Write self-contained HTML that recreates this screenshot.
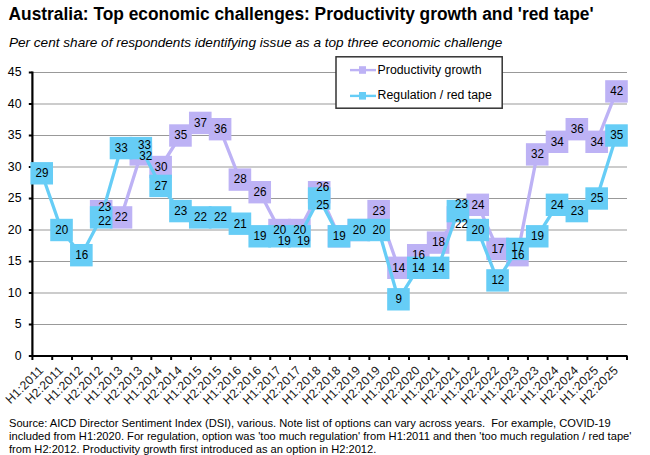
<!DOCTYPE html><html><head><meta charset="utf-8"><style>html,body{margin:0;padding:0;background:#fff;}svg{display:block;font-family:"Liberation Sans",sans-serif;}</style></head><body>
<svg width="650" height="455" viewBox="0 0 650 455">
<rect width="650" height="455" fill="#fff"/>
<text transform="translate(8.6,19.7) scale(1,1.07)" font-size="17.35" font-weight="bold" fill="#000">Australia: Top economic challenges: Productivity growth and 'red tape'</text>
<text x="8.9" y="46.6" font-size="13.6" font-style="italic" fill="#000">Per cent share of respondents identifying issue as a top three economic challenge</text>
<line x1="32.4" x2="627" y1="324.50" y2="324.50" stroke="#999" stroke-width="1"/>
<line x1="32.4" x2="627" y1="293.00" y2="293.00" stroke="#999" stroke-width="1"/>
<line x1="32.4" x2="627" y1="261.50" y2="261.50" stroke="#999" stroke-width="1"/>
<line x1="32.4" x2="627" y1="230.00" y2="230.00" stroke="#999" stroke-width="1"/>
<line x1="32.4" x2="627" y1="198.50" y2="198.50" stroke="#999" stroke-width="1"/>
<line x1="32.4" x2="627" y1="167.00" y2="167.00" stroke="#999" stroke-width="1"/>
<line x1="32.4" x2="627" y1="135.50" y2="135.50" stroke="#999" stroke-width="1"/>
<line x1="32.4" x2="627" y1="104.00" y2="104.00" stroke="#999" stroke-width="1"/>
<line x1="32.4" x2="627" y1="72.50" y2="72.50" stroke="#999" stroke-width="1"/>
<text x="21.5" y="359.70" font-size="12.3" text-anchor="end" fill="#000">0</text>
<line x1="28.8" x2="32.4" y1="356.00" y2="356.00" stroke="#000" stroke-width="2"/>
<text x="21.5" y="328.20" font-size="12.3" text-anchor="end" fill="#000">5</text>
<line x1="28.8" x2="32.4" y1="324.50" y2="324.50" stroke="#000" stroke-width="2"/>
<text x="21.5" y="296.70" font-size="12.3" text-anchor="end" fill="#000">10</text>
<line x1="28.8" x2="32.4" y1="293.00" y2="293.00" stroke="#000" stroke-width="2"/>
<text x="21.5" y="265.20" font-size="12.3" text-anchor="end" fill="#000">15</text>
<line x1="28.8" x2="32.4" y1="261.50" y2="261.50" stroke="#000" stroke-width="2"/>
<text x="21.5" y="233.70" font-size="12.3" text-anchor="end" fill="#000">20</text>
<line x1="28.8" x2="32.4" y1="230.00" y2="230.00" stroke="#000" stroke-width="2"/>
<text x="21.5" y="202.20" font-size="12.3" text-anchor="end" fill="#000">25</text>
<line x1="28.8" x2="32.4" y1="198.50" y2="198.50" stroke="#000" stroke-width="2"/>
<text x="21.5" y="170.70" font-size="12.3" text-anchor="end" fill="#000">30</text>
<line x1="28.8" x2="32.4" y1="167.00" y2="167.00" stroke="#000" stroke-width="2"/>
<text x="21.5" y="139.20" font-size="12.3" text-anchor="end" fill="#000">35</text>
<line x1="28.8" x2="32.4" y1="135.50" y2="135.50" stroke="#000" stroke-width="2"/>
<text x="21.5" y="107.70" font-size="12.3" text-anchor="end" fill="#000">40</text>
<line x1="28.8" x2="32.4" y1="104.00" y2="104.00" stroke="#000" stroke-width="2"/>
<text x="21.5" y="76.20" font-size="12.3" text-anchor="end" fill="#000">45</text>
<line x1="28.8" x2="32.4" y1="72.50" y2="72.50" stroke="#000" stroke-width="2"/>
<line x1="32.4" x2="32.4" y1="71.5" y2="357.1" stroke="#000" stroke-width="2.2"/>
<line x1="31.3" x2="627.5" y1="356.00" y2="356.00" stroke="#000" stroke-width="2.2"/>
<line x1="32.40" x2="32.40" y1="356.00" y2="360.00" stroke="#000" stroke-width="2"/>
<line x1="52.22" x2="52.22" y1="356.00" y2="360.00" stroke="#000" stroke-width="2"/>
<line x1="72.04" x2="72.04" y1="356.00" y2="360.00" stroke="#000" stroke-width="2"/>
<line x1="91.86" x2="91.86" y1="356.00" y2="360.00" stroke="#000" stroke-width="2"/>
<line x1="111.68" x2="111.68" y1="356.00" y2="360.00" stroke="#000" stroke-width="2"/>
<line x1="131.50" x2="131.50" y1="356.00" y2="360.00" stroke="#000" stroke-width="2"/>
<line x1="151.32" x2="151.32" y1="356.00" y2="360.00" stroke="#000" stroke-width="2"/>
<line x1="171.14" x2="171.14" y1="356.00" y2="360.00" stroke="#000" stroke-width="2"/>
<line x1="190.96" x2="190.96" y1="356.00" y2="360.00" stroke="#000" stroke-width="2"/>
<line x1="210.78" x2="210.78" y1="356.00" y2="360.00" stroke="#000" stroke-width="2"/>
<line x1="230.60" x2="230.60" y1="356.00" y2="360.00" stroke="#000" stroke-width="2"/>
<line x1="250.42" x2="250.42" y1="356.00" y2="360.00" stroke="#000" stroke-width="2"/>
<line x1="270.24" x2="270.24" y1="356.00" y2="360.00" stroke="#000" stroke-width="2"/>
<line x1="290.06" x2="290.06" y1="356.00" y2="360.00" stroke="#000" stroke-width="2"/>
<line x1="309.88" x2="309.88" y1="356.00" y2="360.00" stroke="#000" stroke-width="2"/>
<line x1="329.70" x2="329.70" y1="356.00" y2="360.00" stroke="#000" stroke-width="2"/>
<line x1="349.52" x2="349.52" y1="356.00" y2="360.00" stroke="#000" stroke-width="2"/>
<line x1="369.34" x2="369.34" y1="356.00" y2="360.00" stroke="#000" stroke-width="2"/>
<line x1="389.16" x2="389.16" y1="356.00" y2="360.00" stroke="#000" stroke-width="2"/>
<line x1="408.98" x2="408.98" y1="356.00" y2="360.00" stroke="#000" stroke-width="2"/>
<line x1="428.80" x2="428.80" y1="356.00" y2="360.00" stroke="#000" stroke-width="2"/>
<line x1="448.62" x2="448.62" y1="356.00" y2="360.00" stroke="#000" stroke-width="2"/>
<line x1="468.44" x2="468.44" y1="356.00" y2="360.00" stroke="#000" stroke-width="2"/>
<line x1="488.26" x2="488.26" y1="356.00" y2="360.00" stroke="#000" stroke-width="2"/>
<line x1="508.08" x2="508.08" y1="356.00" y2="360.00" stroke="#000" stroke-width="2"/>
<line x1="527.90" x2="527.90" y1="356.00" y2="360.00" stroke="#000" stroke-width="2"/>
<line x1="547.72" x2="547.72" y1="356.00" y2="360.00" stroke="#000" stroke-width="2"/>
<line x1="567.54" x2="567.54" y1="356.00" y2="360.00" stroke="#000" stroke-width="2"/>
<line x1="587.36" x2="587.36" y1="356.00" y2="360.00" stroke="#000" stroke-width="2"/>
<line x1="607.18" x2="607.18" y1="356.00" y2="360.00" stroke="#000" stroke-width="2"/>
<line x1="627.00" x2="627.00" y1="356.00" y2="360.00" stroke="#000" stroke-width="2"/>
<text transform="translate(44.21,370.90) rotate(-45)" font-size="12.2" letter-spacing="0.35" text-anchor="end" fill="#1a1a1a">H1:2011</text>
<text transform="translate(64.03,370.90) rotate(-45)" font-size="12.2" letter-spacing="0.35" text-anchor="end" fill="#1a1a1a">H2:2011</text>
<text transform="translate(83.85,370.90) rotate(-45)" font-size="12.2" letter-spacing="0.35" text-anchor="end" fill="#1a1a1a">H1:2012</text>
<text transform="translate(103.67,370.90) rotate(-45)" font-size="12.2" letter-spacing="0.35" text-anchor="end" fill="#1a1a1a">H2:2012</text>
<text transform="translate(123.49,370.90) rotate(-45)" font-size="12.2" letter-spacing="0.35" text-anchor="end" fill="#1a1a1a">H1:2013</text>
<text transform="translate(143.31,370.90) rotate(-45)" font-size="12.2" letter-spacing="0.35" text-anchor="end" fill="#1a1a1a">H2:2013</text>
<text transform="translate(163.13,370.90) rotate(-45)" font-size="12.2" letter-spacing="0.35" text-anchor="end" fill="#1a1a1a">H1:2014</text>
<text transform="translate(182.95,370.90) rotate(-45)" font-size="12.2" letter-spacing="0.35" text-anchor="end" fill="#1a1a1a">H2:2014</text>
<text transform="translate(202.77,370.90) rotate(-45)" font-size="12.2" letter-spacing="0.35" text-anchor="end" fill="#1a1a1a">H1:2015</text>
<text transform="translate(222.59,370.90) rotate(-45)" font-size="12.2" letter-spacing="0.35" text-anchor="end" fill="#1a1a1a">H2:2015</text>
<text transform="translate(242.41,370.90) rotate(-45)" font-size="12.2" letter-spacing="0.35" text-anchor="end" fill="#1a1a1a">H1:2016</text>
<text transform="translate(262.23,370.90) rotate(-45)" font-size="12.2" letter-spacing="0.35" text-anchor="end" fill="#1a1a1a">H2:2016</text>
<text transform="translate(282.05,370.90) rotate(-45)" font-size="12.2" letter-spacing="0.35" text-anchor="end" fill="#1a1a1a">H1:2017</text>
<text transform="translate(301.87,370.90) rotate(-45)" font-size="12.2" letter-spacing="0.35" text-anchor="end" fill="#1a1a1a">H2:2017</text>
<text transform="translate(321.69,370.90) rotate(-45)" font-size="12.2" letter-spacing="0.35" text-anchor="end" fill="#1a1a1a">H1:2018</text>
<text transform="translate(341.51,370.90) rotate(-45)" font-size="12.2" letter-spacing="0.35" text-anchor="end" fill="#1a1a1a">H2:2018</text>
<text transform="translate(361.33,370.90) rotate(-45)" font-size="12.2" letter-spacing="0.35" text-anchor="end" fill="#1a1a1a">H1:2019</text>
<text transform="translate(381.15,370.90) rotate(-45)" font-size="12.2" letter-spacing="0.35" text-anchor="end" fill="#1a1a1a">H2:2019</text>
<text transform="translate(400.97,370.90) rotate(-45)" font-size="12.2" letter-spacing="0.35" text-anchor="end" fill="#1a1a1a">H1:2020</text>
<text transform="translate(420.79,370.90) rotate(-45)" font-size="12.2" letter-spacing="0.35" text-anchor="end" fill="#1a1a1a">H2:2020</text>
<text transform="translate(440.61,370.90) rotate(-45)" font-size="12.2" letter-spacing="0.35" text-anchor="end" fill="#1a1a1a">H1:2021</text>
<text transform="translate(460.43,370.90) rotate(-45)" font-size="12.2" letter-spacing="0.35" text-anchor="end" fill="#1a1a1a">H2:2021</text>
<text transform="translate(480.25,370.90) rotate(-45)" font-size="12.2" letter-spacing="0.35" text-anchor="end" fill="#1a1a1a">H1:2022</text>
<text transform="translate(500.07,370.90) rotate(-45)" font-size="12.2" letter-spacing="0.35" text-anchor="end" fill="#1a1a1a">H2:2022</text>
<text transform="translate(519.89,370.90) rotate(-45)" font-size="12.2" letter-spacing="0.35" text-anchor="end" fill="#1a1a1a">H1:2023</text>
<text transform="translate(539.71,370.90) rotate(-45)" font-size="12.2" letter-spacing="0.35" text-anchor="end" fill="#1a1a1a">H2:2023</text>
<text transform="translate(559.53,370.90) rotate(-45)" font-size="12.2" letter-spacing="0.35" text-anchor="end" fill="#1a1a1a">H1:2024</text>
<text transform="translate(579.35,370.90) rotate(-45)" font-size="12.2" letter-spacing="0.35" text-anchor="end" fill="#1a1a1a">H2:2024</text>
<text transform="translate(599.17,370.90) rotate(-45)" font-size="12.2" letter-spacing="0.35" text-anchor="end" fill="#1a1a1a">H1:2025</text>
<text transform="translate(618.99,370.90) rotate(-45)" font-size="12.2" letter-spacing="0.35" text-anchor="end" fill="#1a1a1a">H2:2025</text>
<polyline points="101.17,211.10 120.99,217.40 140.81,154.40 160.63,167.00 180.45,135.50 200.27,122.90 220.09,129.20 239.91,179.60 259.73,192.20 279.55,230.00 299.37,230.00 319.19,192.20 339.01,236.30 358.83,230.00 378.65,211.10 398.47,267.80 418.29,255.20 438.11,242.60 457.93,217.40 477.75,204.80 497.57,248.90 517.39,255.20 537.21,154.40 557.03,141.80 576.85,129.20 596.67,141.80 616.49,91.40" fill="none" stroke="#bdb2f5" stroke-width="3.3" stroke-linejoin="round"/>
<rect x="89.87" y="199.90" width="22.6" height="22.4" fill="#bdb2f5"/>
<rect x="109.69" y="206.20" width="22.6" height="22.4" fill="#bdb2f5"/>
<rect x="129.51" y="143.20" width="22.6" height="22.4" fill="#bdb2f5"/>
<rect x="149.33" y="155.80" width="22.6" height="22.4" fill="#bdb2f5"/>
<rect x="169.15" y="124.30" width="22.6" height="22.4" fill="#bdb2f5"/>
<rect x="188.97" y="111.70" width="22.6" height="22.4" fill="#bdb2f5"/>
<rect x="208.79" y="118.00" width="22.6" height="22.4" fill="#bdb2f5"/>
<rect x="228.61" y="168.40" width="22.6" height="22.4" fill="#bdb2f5"/>
<rect x="248.43" y="181.00" width="22.6" height="22.4" fill="#bdb2f5"/>
<rect x="268.25" y="218.80" width="22.6" height="22.4" fill="#bdb2f5"/>
<rect x="288.07" y="218.80" width="22.6" height="22.4" fill="#bdb2f5"/>
<rect x="307.89" y="181.00" width="22.6" height="22.4" fill="#bdb2f5"/>
<rect x="327.71" y="225.10" width="22.6" height="22.4" fill="#bdb2f5"/>
<rect x="347.53" y="218.80" width="22.6" height="22.4" fill="#bdb2f5"/>
<rect x="367.35" y="199.90" width="22.6" height="22.4" fill="#bdb2f5"/>
<rect x="387.17" y="256.60" width="22.6" height="22.4" fill="#bdb2f5"/>
<rect x="406.99" y="244.00" width="22.6" height="22.4" fill="#bdb2f5"/>
<rect x="426.81" y="231.40" width="22.6" height="22.4" fill="#bdb2f5"/>
<rect x="446.63" y="206.20" width="8.0" height="22.4" fill="#bdb2f5"/>
<rect x="466.45" y="193.60" width="22.6" height="22.4" fill="#bdb2f5"/>
<rect x="486.27" y="237.70" width="22.6" height="22.4" fill="#bdb2f5"/>
<rect x="506.09" y="244.00" width="22.6" height="22.4" fill="#bdb2f5"/>
<rect x="525.91" y="143.20" width="22.6" height="22.4" fill="#bdb2f5"/>
<rect x="545.73" y="130.60" width="22.6" height="22.4" fill="#bdb2f5"/>
<rect x="565.55" y="118.00" width="22.6" height="22.4" fill="#bdb2f5"/>
<rect x="585.37" y="130.60" width="22.6" height="22.4" fill="#bdb2f5"/>
<rect x="605.19" y="80.20" width="22.6" height="22.4" fill="#bdb2f5"/>
<polyline points="41.71,173.30 61.53,230.00 81.35,255.20 101.17,217.40 120.99,148.10 140.81,148.10 160.63,185.90 180.45,211.10 200.27,217.40 220.09,217.40 239.91,223.70 259.73,236.30 279.55,236.30 299.37,236.30 319.19,198.50 339.01,236.30 358.83,230.00 378.65,230.00 398.47,299.30 418.29,267.80 438.11,267.80 457.93,211.10 477.75,230.00 497.57,280.40 517.39,248.90 537.21,236.30 557.03,204.80 576.85,211.10 596.67,198.50 616.49,135.50" fill="none" stroke="#66cdf6" stroke-width="3.3" stroke-linejoin="round"/>
<rect x="30.41" y="162.10" width="22.6" height="22.4" fill="#66cdf6"/>
<rect x="50.23" y="218.80" width="22.6" height="22.4" fill="#66cdf6"/>
<rect x="70.05" y="244.00" width="22.6" height="22.4" fill="#66cdf6"/>
<rect x="89.87" y="206.20" width="22.6" height="22.4" fill="#66cdf6"/>
<rect x="109.69" y="136.90" width="22.6" height="22.4" fill="#66cdf6"/>
<rect x="129.51" y="136.90" width="22.6" height="22.4" fill="#66cdf6"/>
<rect x="149.33" y="174.70" width="22.6" height="22.4" fill="#66cdf6"/>
<rect x="169.15" y="199.90" width="22.6" height="22.4" fill="#66cdf6"/>
<rect x="188.97" y="206.20" width="22.6" height="22.4" fill="#66cdf6"/>
<rect x="208.79" y="206.20" width="22.6" height="22.4" fill="#66cdf6"/>
<rect x="228.61" y="212.50" width="22.6" height="22.4" fill="#66cdf6"/>
<rect x="248.43" y="225.10" width="22.6" height="22.4" fill="#66cdf6"/>
<rect x="268.25" y="225.10" width="22.6" height="22.4" fill="#66cdf6"/>
<rect x="288.07" y="225.10" width="22.6" height="22.4" fill="#66cdf6"/>
<rect x="307.89" y="187.30" width="22.6" height="22.4" fill="#66cdf6"/>
<rect x="327.71" y="225.10" width="22.6" height="22.4" fill="#66cdf6"/>
<rect x="347.53" y="218.80" width="22.6" height="22.4" fill="#66cdf6"/>
<rect x="367.35" y="218.80" width="22.6" height="22.4" fill="#66cdf6"/>
<rect x="387.17" y="288.10" width="22.6" height="22.4" fill="#66cdf6"/>
<rect x="406.99" y="256.60" width="22.6" height="22.4" fill="#66cdf6"/>
<rect x="426.81" y="256.60" width="22.6" height="22.4" fill="#66cdf6"/>
<rect x="446.63" y="199.90" width="22.6" height="22.4" fill="#66cdf6"/>
<rect x="466.45" y="218.80" width="22.6" height="22.4" fill="#66cdf6"/>
<rect x="486.27" y="269.20" width="22.6" height="22.4" fill="#66cdf6"/>
<rect x="506.09" y="237.70" width="22.6" height="22.4" fill="#66cdf6"/>
<rect x="525.91" y="225.10" width="22.6" height="22.4" fill="#66cdf6"/>
<rect x="545.73" y="193.60" width="22.6" height="22.4" fill="#66cdf6"/>
<rect x="565.55" y="199.90" width="22.6" height="22.4" fill="#66cdf6"/>
<rect x="585.37" y="187.30" width="22.6" height="22.4" fill="#66cdf6"/>
<rect x="605.19" y="124.30" width="22.6" height="22.4" fill="#66cdf6"/>
<text transform="translate(104.77,211.10) scale(0.95,1.08)" font-size="12.3" text-anchor="middle" fill="#000">23</text>
<text transform="translate(121.29,221.20) scale(0.95,1.08)" font-size="12.3" text-anchor="middle" fill="#000">22</text>
<text transform="translate(145.81,160.30) scale(0.95,1.08)" font-size="12.3" text-anchor="middle" fill="#000">32</text>
<text transform="translate(160.93,170.80) scale(0.95,1.08)" font-size="12.3" text-anchor="middle" fill="#000">30</text>
<text transform="translate(180.75,139.30) scale(0.95,1.08)" font-size="12.3" text-anchor="middle" fill="#000">35</text>
<text transform="translate(200.57,126.70) scale(0.95,1.08)" font-size="12.3" text-anchor="middle" fill="#000">37</text>
<text transform="translate(220.39,133.00) scale(0.95,1.08)" font-size="12.3" text-anchor="middle" fill="#000">36</text>
<text transform="translate(240.21,183.40) scale(0.95,1.08)" font-size="12.3" text-anchor="middle" fill="#000">28</text>
<text transform="translate(260.03,196.00) scale(0.95,1.08)" font-size="12.3" text-anchor="middle" fill="#000">26</text>
<text transform="translate(279.85,233.80) scale(0.95,1.08)" font-size="12.3" text-anchor="middle" fill="#000">20</text>
<text transform="translate(299.67,233.80) scale(0.95,1.08)" font-size="12.3" text-anchor="middle" fill="#000">20</text>
<text transform="translate(322.79,191.30) scale(0.95,1.08)" font-size="12.3" text-anchor="middle" fill="#000">26</text>
<text transform="translate(378.95,214.90) scale(0.95,1.08)" font-size="12.3" text-anchor="middle" fill="#000">23</text>
<text transform="translate(398.77,271.60) scale(0.95,1.08)" font-size="12.3" text-anchor="middle" fill="#000">14</text>
<text transform="translate(418.59,259.00) scale(0.95,1.08)" font-size="12.3" text-anchor="middle" fill="#000">16</text>
<text transform="translate(438.41,246.40) scale(0.95,1.08)" font-size="12.3" text-anchor="middle" fill="#000">18</text>
<text transform="translate(461.53,228.10) scale(0.95,1.08)" font-size="12.3" text-anchor="middle" fill="#000">22</text>
<text transform="translate(478.05,208.60) scale(0.95,1.08)" font-size="12.3" text-anchor="middle" fill="#000">24</text>
<text transform="translate(497.87,252.70) scale(0.95,1.08)" font-size="12.3" text-anchor="middle" fill="#000">17</text>
<text transform="translate(518.09,259.40) scale(0.95,1.08)" font-size="12.3" text-anchor="middle" fill="#000">16</text>
<text transform="translate(537.51,158.20) scale(0.95,1.08)" font-size="12.3" text-anchor="middle" fill="#000">32</text>
<text transform="translate(557.33,145.60) scale(0.95,1.08)" font-size="12.3" text-anchor="middle" fill="#000">34</text>
<text transform="translate(577.15,133.00) scale(0.95,1.08)" font-size="12.3" text-anchor="middle" fill="#000">36</text>
<text transform="translate(596.97,145.60) scale(0.95,1.08)" font-size="12.3" text-anchor="middle" fill="#000">34</text>
<text transform="translate(616.79,95.20) scale(0.95,1.08)" font-size="12.3" text-anchor="middle" fill="#000">42</text>
<text transform="translate(42.01,177.10) scale(0.95,1.08)" font-size="12.3" text-anchor="middle" fill="#000">29</text>
<text transform="translate(61.83,233.80) scale(0.95,1.08)" font-size="12.3" text-anchor="middle" fill="#000">20</text>
<text transform="translate(81.65,259.00) scale(0.95,1.08)" font-size="12.3" text-anchor="middle" fill="#000">16</text>
<text transform="translate(104.77,225.20) scale(0.95,1.08)" font-size="12.3" text-anchor="middle" fill="#000">22</text>
<text transform="translate(121.29,151.90) scale(0.95,1.08)" font-size="12.3" text-anchor="middle" fill="#000">33</text>
<text transform="translate(144.41,148.80) scale(0.95,1.08)" font-size="12.3" text-anchor="middle" fill="#000">33</text>
<text transform="translate(160.93,189.70) scale(0.95,1.08)" font-size="12.3" text-anchor="middle" fill="#000">27</text>
<text transform="translate(180.75,214.90) scale(0.95,1.08)" font-size="12.3" text-anchor="middle" fill="#000">23</text>
<text transform="translate(200.57,221.20) scale(0.95,1.08)" font-size="12.3" text-anchor="middle" fill="#000">22</text>
<text transform="translate(220.39,221.20) scale(0.95,1.08)" font-size="12.3" text-anchor="middle" fill="#000">22</text>
<text transform="translate(240.21,227.50) scale(0.95,1.08)" font-size="12.3" text-anchor="middle" fill="#000">21</text>
<text transform="translate(260.03,240.10) scale(0.95,1.08)" font-size="12.3" text-anchor="middle" fill="#000">19</text>
<text transform="translate(284.25,245.10) scale(0.95,1.08)" font-size="12.3" text-anchor="middle" fill="#000">19</text>
<text transform="translate(303.57,245.10) scale(0.95,1.08)" font-size="12.3" text-anchor="middle" fill="#000">19</text>
<text transform="translate(322.79,208.80) scale(0.95,1.08)" font-size="12.3" text-anchor="middle" fill="#000">25</text>
<text transform="translate(339.31,240.10) scale(0.95,1.08)" font-size="12.3" text-anchor="middle" fill="#000">19</text>
<text transform="translate(359.13,233.80) scale(0.95,1.08)" font-size="12.3" text-anchor="middle" fill="#000">20</text>
<text transform="translate(378.95,233.80) scale(0.95,1.08)" font-size="12.3" text-anchor="middle" fill="#000">20</text>
<text transform="translate(398.77,303.10) scale(0.95,1.08)" font-size="12.3" text-anchor="middle" fill="#000">9</text>
<text transform="translate(418.59,271.60) scale(0.95,1.08)" font-size="12.3" text-anchor="middle" fill="#000">14</text>
<text transform="translate(438.41,271.60) scale(0.95,1.08)" font-size="12.3" text-anchor="middle" fill="#000">14</text>
<text transform="translate(461.53,208.00) scale(0.95,1.08)" font-size="12.3" text-anchor="middle" fill="#000">23</text>
<text transform="translate(478.05,233.80) scale(0.95,1.08)" font-size="12.3" text-anchor="middle" fill="#000">20</text>
<text transform="translate(497.87,284.20) scale(0.95,1.08)" font-size="12.3" text-anchor="middle" fill="#000">12</text>
<text transform="translate(517.69,251.40) scale(0.95,1.08)" font-size="12.3" text-anchor="middle" fill="#000">17</text>
<text transform="translate(537.51,240.10) scale(0.95,1.08)" font-size="12.3" text-anchor="middle" fill="#000">19</text>
<text transform="translate(557.33,208.60) scale(0.95,1.08)" font-size="12.3" text-anchor="middle" fill="#000">24</text>
<text transform="translate(577.15,214.90) scale(0.95,1.08)" font-size="12.3" text-anchor="middle" fill="#000">23</text>
<text transform="translate(596.97,202.30) scale(0.95,1.08)" font-size="12.3" text-anchor="middle" fill="#000">25</text>
<text transform="translate(616.79,139.30) scale(0.95,1.08)" font-size="12.3" text-anchor="middle" fill="#000">35</text>
<rect x="336" y="56.8" width="166.2" height="51.4" fill="#fff" stroke="#333" stroke-width="1.5"/>
<line x1="350" x2="376" y1="70.1" y2="70.1" stroke="#bdb2f5" stroke-width="2.4"/>
<rect x="359" y="66.2" width="7" height="7.6" fill="#bdb2f5"/>
<text x="377.6" y="73.5" font-size="12.3" fill="#000">Productivity growth</text>
<line x1="350" x2="376" y1="95.9" y2="95.9" stroke="#66cdf6" stroke-width="2.4"/>
<rect x="359" y="92" width="7" height="7.6" fill="#66cdf6"/>
<text x="377.6" y="99.3" font-size="12.3" fill="#000">Regulation / red tape</text>
<text x="9" y="427.20" font-size="11.13" fill="#000" xml:space="preserve">Source: AICD Director Sentiment Index (DSI), various. Note list of options can vary across years.  For example, COVID-19</text>
<text x="9" y="440.10" font-size="11.13" fill="#000" xml:space="preserve">included from H1:2020. For regulation, option was &#39;too much regulation&#39; from H1:2011 and then &#39;too much regulation / red tape&#39;</text>
<text x="9" y="453.00" font-size="11.13" fill="#000" xml:space="preserve">from H2:2012. Productivity growth first introduced as an option in H2:2012.</text>
</svg></body></html>
